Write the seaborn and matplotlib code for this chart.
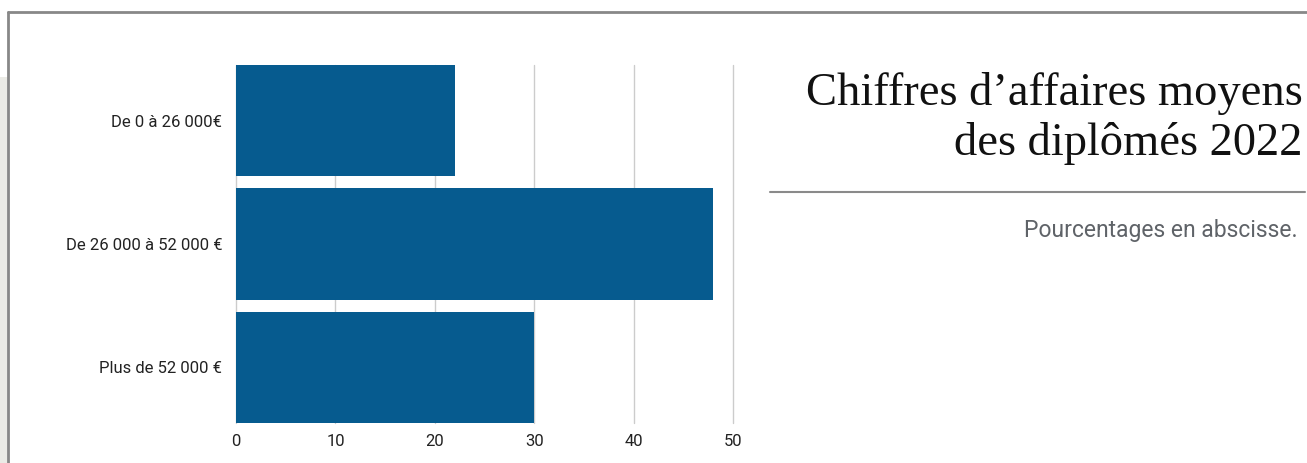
import pandas as pd
import matplotlib.pyplot as plt
import seaborn as sns
from matplotlib.lines import Line2D
from matplotlib.patches import Rectangle

# data
categories = ['De 0 à 26 000€', 'De 26 000 à 52 000 €', 'Plus de 52 000 €']
pourcentages = [22, 48, 30]
x_ticks = [0, 10, 20, 30, 40, 50]

df = pd.DataFrame({'tranche': categories, 'pct': pourcentages})

sns.set_style('white')
plt.rcParams['font.family'] = ['Roboto', 'DejaVu Sans']

fig = plt.figure(figsize=(13.07, 4.63), dpi=100)
ax = fig.add_axes([0.1806, 0.0864, 0.3803, 0.7732])

sns.barplot(data=df, x='pct', y='tranche', color='#065b8f', saturation=1,
            width=0.9, linewidth=0, ax=ax, zorder=3)

ax.set_xlim(0, 50)
ax.set_ylim(2.45, -0.45)
ax.set_xticks(x_ticks)
ax.grid(axis='x', color='#cccccc', linewidth=1, zorder=0)
ax.grid(axis='y', visible=False)
for gl in ax.get_xgridlines():
    gl.set_clip_on(False)
for s in ax.spines.values():
    s.set_visible(False)
ax.tick_params(axis='both', length=0, labelsize=12, colors='#222222')
ax.tick_params(axis='x', pad=8)
ax.tick_params(axis='y', pad=10)
ax.set_xlabel('')
ax.set_ylabel('')

# page frame
fig.add_artist(Rectangle((0, 0), 8 / 1307, 1 - 77 / 463, transform=fig.transFigure,
                         facecolor='#ebebe6', edgecolor='none', zorder=0))
fig.add_artist(Line2D([8 / 1307, 8 / 1307], [0, 1 - 12 / 463], transform=fig.transFigure,
                      color='#888888', linewidth=2))
fig.add_artist(Line2D([8 / 1307, 1], [1 - 12 / 463, 1 - 12 / 463], transform=fig.transFigure,
                      color='#888888', linewidth=2))

# title block
fig.text(1303 / 1307, 1 - 155 / 463, 'Chiffres d’affaires moyens\ndes diplômés 2022',
         ha='right', va='baseline', fontsize=33.5, family='Liberation Serif',
         color='#111111', linespacing=1.22)
fig.add_artist(Line2D([770 / 1307, 1305 / 1307], [1 - 192 / 463, 1 - 192 / 463],
                      transform=fig.transFigure, color='#8a8a8a', linewidth=1.5))
fig.text(1298 / 1307, 1 - 230 / 463, 'Pourcentages en abscisse.', ha='right', va='center',
         fontsize=16.5, color='#5f6368')

plt.savefig('out.png', dpi=100)
plt.close()
